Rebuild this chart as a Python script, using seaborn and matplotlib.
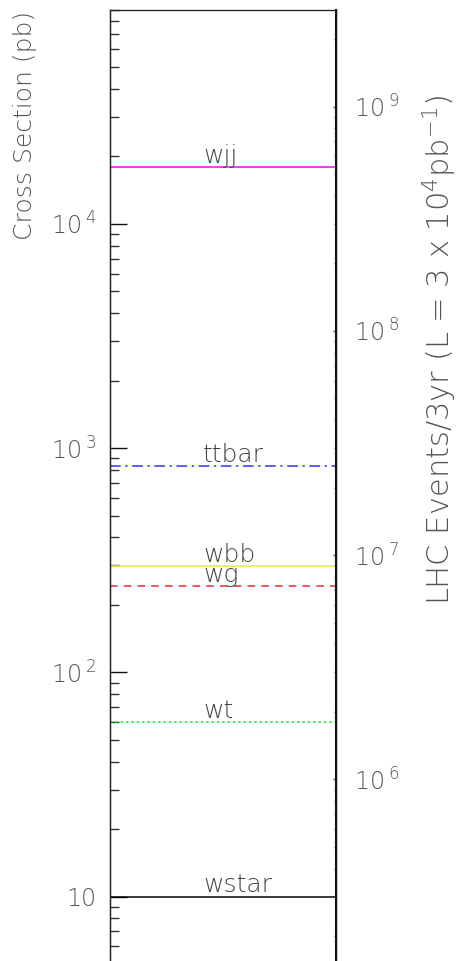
import matplotlib
matplotlib.use("Agg")
import matplotlib.pyplot as plt
import matplotlib.ticker as mticker
import seaborn as sns
import numpy as np

# ---- data ----
processes = ["wjj", "ttbar", "wbb", "wg", "wt", "wstar"]
cross_sections = [18000, 830, 298, 243, 60, 10]  # pb
line_colors = ["#ff00ff", "#3333ff", "#e8e850", "#e03030", "#00ee00", "#000000"]
line_styles = ["-", (0, (7, 3, 1.5, 3)), "-", (0, (5, 4)), (0, (1.5, 2)), "-"]
luminosity = 3e4  # pb^-1
y_limits = [5, 9e4]
left_ticks = [10, 100, 1000, 10000]
left_tick_labels = ["10", r"$\mathregular{10\,^{2}}$", r"$\mathregular{10\,^{3}}$", r"$\mathregular{10\,^{4}}$"]
right_ticks = [1e6, 1e7, 1e8, 1e9]
right_tick_labels = [r"$\mathregular{10\,^{6}}$", r"$\mathregular{10\,^{7}}$",
                     r"$\mathregular{10\,^{8}}$", r"$\mathregular{10\,^{9}}$"]

sns.set_style("white")
plt.rcParams["font.family"] = ["DejaVu Sans"]
plt.rcParams["font.weight"] = "light"
plt.rcParams["mathtext.default"] = "regular"

W, H = 459, 961
fig = plt.figure(figsize=(W / 100, H / 100), dpi=100)
ax = fig.add_axes([110 / W, -3 / H, 225.5 / W, 954 / H])

for name, val, col, ls in zip(processes, cross_sections, line_colors, line_styles):
    sns.lineplot(x=[0, 1], y=[val, val], ax=ax, color=col, linestyle=ls, linewidth=1.1)
    ax.annotate(name, xy=(0.413, val), xycoords=("axes fraction", "data"),
                xytext=(0, 3), textcoords="offset points", ha="left", va="baseline",
                fontsize=18, color="#444444")

ax.set_xlim(0, 1)
ax.set_yscale("log")
ax.set_ylim(*y_limits)
ax.set_xticks([])
ax.set_yticks(left_ticks)
ax.set_yticklabels(left_tick_labels)
ax.yaxis.set_minor_locator(mticker.LogLocator(base=10, subs=np.arange(2, 10)))
ax.yaxis.set_minor_formatter(mticker.NullFormatter())
ax.tick_params(axis="y", which="major", direction="in", length=12, width=1, pad=10,
               labelsize=17, labelcolor="#555555", color="#111111")
ax.tick_params(axis="y", which="minor", direction="in", length=6.5, width=1, color="#333333")
for s in ax.spines.values():
    s.set_visible(True)
    s.set_color("#111111")
    s.set_linewidth(1)
ax.spines["top"].set_color("#777777")
ax.set_ylabel("")

ax2 = ax.twinx()
ax2.set_yscale("log")
ax2.set_ylim(y_limits[0] * luminosity, y_limits[1] * luminosity)
ax2.set_yticks(right_ticks)
ax2.set_yticklabels(right_tick_labels)
ax2.yaxis.set_minor_locator(mticker.LogLocator(base=10, subs=np.arange(2, 10)))
ax2.yaxis.set_minor_formatter(mticker.NullFormatter())
ax2.tick_params(axis="y", which="major", direction="in", length=2, width=1, pad=13,
                labelsize=17, labelcolor="#555555", color="#555555")
ax2.tick_params(axis="y", which="minor", direction="in", length=1.5, width=1, color="#777777")
ax2.spines["right"].set_linewidth(1.5)
ax2.spines["right"].set_color("#111111")

fig.text(25 / W, 1 - 125 / H, "Cross Section (pb)", rotation=90, ha="center", va="center",
         fontsize=18, color="#555555")
fig.text(440 / W, 1 - 350 / H, r"LHC Events/3yr (L = 3 x 10$^{4}$pb$^{-1}$)", rotation=90,
         ha="center", va="center", fontsize=22, color="#555555")

fig.savefig("out.png", dpi=100)
